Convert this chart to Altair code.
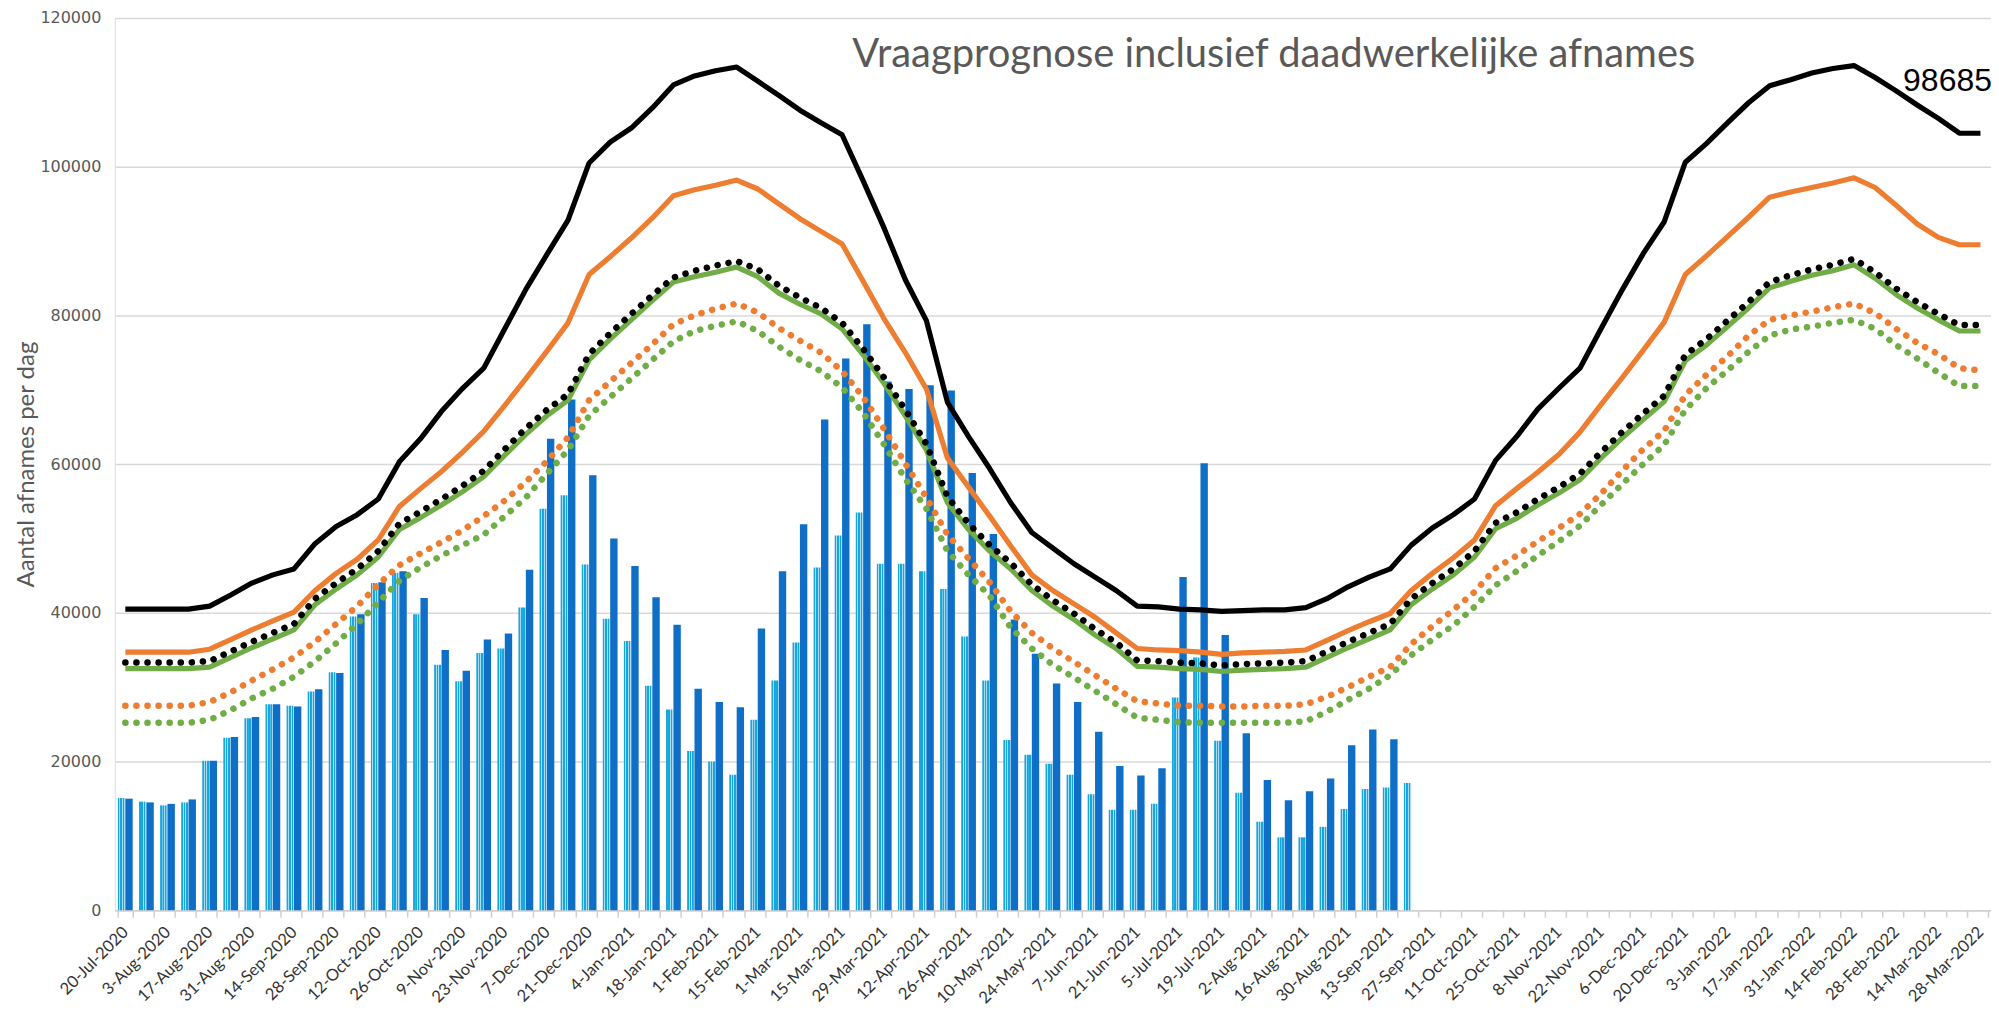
import altair as alt
import pandas as pd

# ---------------- categories (weekly, Mondays) ----------------
weeks = [f"{d.day}-{d.strftime('%b-%Y')}" for d in pd.date_range("2020-07-20", periods=89, freq="7D")]
labelled_weeks = weeks[::2]

# ---------------- bar series (actual pick-ups) ----------------
light_bars = [15100, 14600, 14100, 14500, 20100, 23200, 25800, 27700, 27500, 29400,
              32000, 39500, 44000, 45400, 39800, 33000, 30800, 34600, 35200, 40700,
              54000, 55800, 46500, 39200, 36200, 30200, 27000, 21400, 20000, 18200,
              25600, 30900, 36000, 46100, 50400, 53500, 46600, 46600, 45600, 43200,
              36800, 30900, 22900, 20900, 19700, 18200, 15600, 13500, 13500, 14300,
              28600, 34000, 22800, 15800, 11900, 9800, 9800, 11200, 13600, 16300,
              16500, 17100]
dark_bars = [15000, 14500, 14300, 14900, 20100, 23300, 26000, 27700, 27400, 29700,
             31900, 39800, 44100, 45600, 42000, 35000, 32200, 36400, 37200, 45800,
             63400, 68700, 58500, 50000, 46300, 42100, 38400, 29800, 28000, 27300,
             37900, 45600, 51900, 66000, 74200, 78800, 71100, 70100, 70600, 69900,
             58800, 50600, 39100, 34500, 30500, 28000, 24000, 19400, 18100, 19100,
             44800, 60100, 37000, 23800, 17500, 14800, 16000, 17700, 22200, 24300,
             23000]

# ---------------- forecast lines ----------------
black_solid = [40500, 40500, 40500, 40500, 40900, 42400, 44000, 45100, 45900, 49300,
               51600, 53200, 55300, 60300, 63400, 67100, 70200, 72900, 78200, 83500,
               88200, 92800, 100500, 103300, 105200, 107900, 111000, 112200, 112900, 113400,
               111500, 109600, 107600, 105900, 104300, 98100, 91700, 84800, 79300, 68300,
               63700, 59400, 54800, 50800, 48700, 46600, 44800, 43000, 40900, 40800,
               40500, 40400, 40200, 40300, 40400, 40400, 40700, 41900, 43500, 44800,
               45900, 49100, 51400, 53200, 55300, 60500, 63700, 67400, 70200, 72900,
               78200, 83400, 88300, 92600, 100600, 103100, 105900, 108600, 110900, 111700,
               112600, 113200, 113600, 112000, 110200, 108300, 106500, 104500, 104500]
orange_solid = [34700, 34700, 34700, 34700, 35100, 36400, 37700, 38900, 40100, 43000,
                45300, 47200, 49800, 54300, 56700, 59000, 61600, 64400, 67900, 71500,
                75200, 79000, 85500, 87900, 90400, 93100, 96100, 96900, 97500, 98200,
                97000, 95000, 93000, 91300, 89600, 84600, 79500, 75000, 70100, 60800,
                56900, 53000, 49000, 45100, 43000, 41200, 39400, 37300, 35200, 35000,
                34900, 34700, 34400, 34600, 34700, 34800, 35000, 36300, 37600, 38800,
                39900, 43000, 45300, 47400, 49800, 54400, 56700, 58900, 61300, 64300,
                68000, 71600, 75300, 79100, 85500, 88000, 90600, 93200, 95900, 96600,
                97200, 97800, 98500, 97200, 94800, 92300, 90500, 89500, 89500]
green_solid = [32500, 32500, 32500, 32500, 32700, 34000, 35300, 36500, 37700, 41100,
               43200, 45100, 47500, 51200, 52800, 54500, 56300, 58300, 61200, 64000,
               66500, 68600, 74000, 76800, 79400, 82000, 84500, 85200, 85800, 86500,
               85200, 83000, 81500, 80200, 78200, 74700, 70800, 66500, 61900, 54800,
               51200, 48300, 45900, 43000, 40900, 39100, 37000, 35200, 32800, 32700,
               32500, 32400, 32100, 32300, 32400, 32500, 32700, 34000, 35300, 36500,
               37700, 41100, 43200, 45100, 47500, 51300, 52700, 54500, 56100, 57900,
               60800, 63500, 66000, 68400, 73900, 76000, 78500, 81000, 83700, 84600,
               85400, 86000, 86800, 85000, 82800, 81000, 79400, 77900, 77900]
black_dotted = [33300, 33300, 33300, 33300, 33500, 34800, 36100, 37300, 38500, 41900,
                44000, 45900, 48300, 52000, 53600, 55300, 57100, 59100, 62000, 64800,
                67300, 69400, 74800, 77600, 80200, 82700, 85100, 86000, 86700, 87300,
                86200, 84000, 82400, 81000, 79000, 75500, 71600, 67300, 62700, 55600,
                52000, 49100, 46700, 43800, 41700, 39900, 37800, 36000, 33600, 33500,
                33300, 33200, 32900, 33100, 33200, 33300, 33500, 34800, 36100, 37300,
                38500, 41900, 44000, 45900, 48300, 52100, 53500, 55300, 56900, 58700,
                61600, 64300, 66800, 69200, 74700, 76800, 79300, 81800, 84500, 85400,
                86200, 86800, 87600, 85800, 83600, 81800, 80200, 78700, 78700]
orange_dotted = [27500, 27500, 27500, 27500, 28000, 29300, 30900, 32400, 34000, 36100,
                 38500, 40900, 43800, 46400, 48000, 49500, 51100, 53000, 55100, 57600,
                 60400, 63600, 68600, 71100, 73600, 76100, 78800, 80000, 80900, 81600,
                 80400, 78300, 76600, 75000, 72500, 69000, 64700, 60100, 55500, 50500,
                 47300, 44100, 40200, 37300, 35200, 33400, 31600, 29800, 28100, 27800,
                 27500, 27500, 27400, 27400, 27500, 27500, 27700, 28700, 30000, 31400,
                 32700, 35800, 38200, 40400, 42800, 46000, 47700, 49600, 51400, 53300,
                 56000, 59100, 62000, 64500, 69300, 72000, 74500, 77300, 79400, 80000,
                 80500, 81100, 81600, 80300, 78200, 76300, 74800, 72900, 72600]
green_dotted = [25200, 25200, 25200, 25200, 25600, 26900, 28500, 29800, 31400, 33500,
                35900, 38500, 41400, 44300, 46100, 47700, 49100, 50500, 53000, 55500,
                58700, 61900, 66500, 69000, 71500, 74000, 76500, 77900, 78600, 79200,
                77900, 75800, 74000, 72500, 70300, 66900, 62600, 58000, 54000, 48300,
                45100, 42300, 38000, 35200, 33000, 31300, 29500, 27700, 25900, 25600,
                25300, 25200, 25200, 25200, 25200, 25200, 25400, 26700, 28300, 29800,
                31600, 34300, 36400, 38300, 40800, 43700, 45600, 47700, 49600, 51700,
                54500, 57300, 60000, 62600, 67300, 70200, 72600, 75100, 77300, 78100,
                78500, 79000, 79400, 78200, 76000, 74200, 72300, 70500, 70500]

y_ticks = [0, 20000, 40000, 60000, 80000, 100000, 120000]
peak_label = "98685"
peak_label_week = "28-Feb-2022"
peak_label_value = 111500

# ---------------- tables ----------------
bar_rows = []
for i, v in enumerate(light_bars):
    bar_rows.append({"week": weeks[i], "series": "a", "value": v})
for i, v in enumerate(dark_bars):
    bar_rows.append({"week": weeks[i], "series": "b", "value": v})
bars_df = pd.DataFrame(bar_rows)

line_series = {
    "black_solid": black_solid, "orange_solid": orange_solid, "green_solid": green_solid,
    "black_dotted": black_dotted, "orange_dotted": orange_dotted, "green_dotted": green_dotted,
}
line_rows = []
for name, vals in line_series.items():
    for i, v in enumerate(vals):
        line_rows.append({"week": weeks[i], "line": name, "value": v})
lines_df = pd.DataFrame(line_rows)

label_df = pd.DataFrame([{"week": peak_label_week, "value": peak_label_value, "text": peak_label}])

# ---------------- encodings ----------------
even_list = ",".join("'%s'" % w for w in labelled_weeks)
x_enc = alt.X(
    "week:N", sort=weeks,
    scale=alt.Scale(domain=weeks, paddingInner=0.3, paddingOuter=0.15),
    axis=alt.Axis(
        title=None, labelAngle=-45, labelAlign="right", labelBaseline="middle",
        labelExpr=f"indexof([{even_list}], datum.value) >= 0 ? datum.label : ''",
        labelOverlap=False, labelFont="Lato", labelFontSize=16.5, labelColor="#333333",
        labelPadding=12, tickBand="extent", ticks=True, tickSize=7, tickColor="#d0d0d0",
        tickWidth=1.5, domainColor="#d0d0d0", domainWidth=1.5, grid=False,
    ),
)
y_enc = alt.Y(
    "value:Q",
    scale=alt.Scale(domain=[0, 120000], nice=False),
    axis=alt.Axis(
        title="Aantal afnames per dag", values=y_ticks, format="d",
        grid=True, gridColor="#d9d9d9", gridWidth=1.5, domain=False, ticks=False,
        labelFont="DejaVu Sans", labelFontSize=16, labelColor="#595959", labelPadding=14,
        titleFont="Lato", titleFontSize=24, titleFontWeight="normal", titleColor="#595959",
        titlePadding=1,
    ),
)

c_base = "#17a6de"
c_dot = "#a6dcf2"
light_fill = {
    "gradient": "linear", "x1": 0, "y1": 0, "x2": 1, "y2": 0,
    "stops": [
        {"offset": 0.0, "color": c_base}, {"offset": 0.2, "color": c_base},
        {"offset": 0.21, "color": c_dot}, {"offset": 0.32, "color": c_dot},
        {"offset": 0.33, "color": c_base}, {"offset": 0.55, "color": c_base},
        {"offset": 0.56, "color": c_dot}, {"offset": 0.67, "color": c_dot},
        {"offset": 0.68, "color": c_base}, {"offset": 0.86, "color": c_base},
        {"offset": 0.87, "color": c_dot}, {"offset": 1.0, "color": c_dot},
    ],
}

bars = alt.Chart(bars_df).mark_bar().encode(
    x=x_enc,
    xOffset=alt.XOffset("series:N", sort=["a", "b"], scale=alt.Scale(paddingInner=0, paddingOuter=0)),
    y=y_enc,
    color=alt.condition(alt.datum.series == "a", alt.value(light_fill), alt.value("#0f6fc6")),
)


def line_layer(name, color, dotted):
    if dotted:
        style = dict(color=color, strokeWidth=6.5, strokeDash=[0.1, 11], strokeCap="round")
    else:
        style = dict(color=color, strokeWidth=5.2, strokeJoin="round")
    return alt.Chart(lines_df).transform_filter(alt.datum.line == name).mark_line(
        **style
    ).encode(x=alt.X("week:N", sort=weeks), y=alt.Y("value:Q"))


layers = [
    bars,
    line_layer("black_solid", "#000000", False),
    line_layer("orange_solid", "#ed7d31", False),
    line_layer("orange_dotted", "#ed7d31", True),
    line_layer("green_dotted", "#70ad47", True),
    line_layer("green_solid", "#70ad47", False),
    line_layer("black_dotted", "#000000", True),
]

label = alt.Chart(label_df).mark_text(
    align="left", baseline="middle", font="Liberation Sans", fontSize=32, color="#000000", dx=7
).encode(x=alt.X("week:N", sort=weeks), y=alt.Y("value:Q"), text="text:N")
layers.append(label)

chart = alt.layer(*layers).properties(
    width=1880, height=894,
    padding={"left": 107, "top": 9, "right": 0, "bottom": 100},
    autosize=alt.AutoSizeParams(type="none"),
    title=alt.TitleParams(
        "Vraagprognose inclusief daadwerkelijke afnames", anchor="start", frame="group",
        dx=739, dy=97, offset=0, baseline="alphabetic", font="Lato", fontSize=40,
        fontWeight="normal", color="#595959",
    ),
).configure_view(stroke=None).configure(background="#ffffff")

chart.save("out.html", embed_options={"renderer": "svg", "actions": False})
